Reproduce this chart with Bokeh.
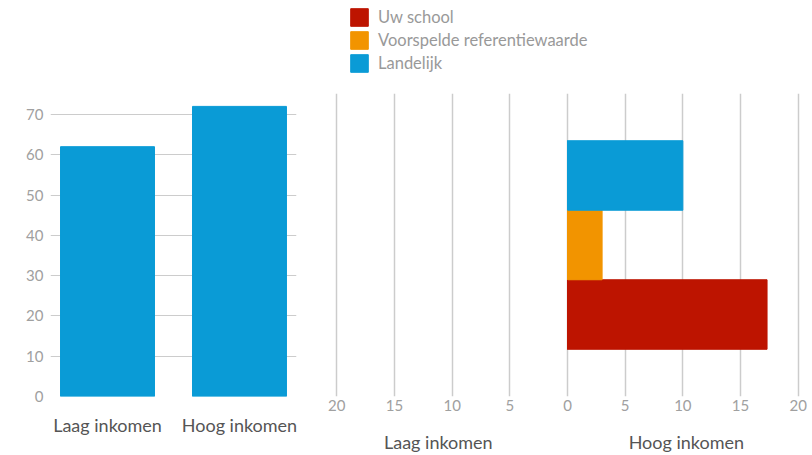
from bokeh.plotting import figure
from bokeh.models import (FactorRange, Range1d, LinearAxis, FixedTicker, CustomJSTickFormatter,
                          Legend, LegendItem, ColumnDataSource)
from bokeh.layouts import row, column
from bokeh.embed import file_html
from bokeh.resources import INLINE

# ---- data ----
income_groups = ["Laag inkomen", "Hoog inkomen"]
landelijk_pct = [62, 72]

series = ["Uw school", "Voorspelde referentiewaarde", "Landelijk"]
series_colors = ["#BD1400", "#F29400", "#0A9BD6"]
laag_values = [0, 0, 0]
hoog_values = [17.3, 3, 10]
group_label_pos = [-11.2, 10.3]

FONT = "Lato"
TICK_COLOR = "#a0a0a0"
LEGEND_COLOR = "#999999"
LABEL_COLOR = "#555555"
GRID_COLOR = "#cccccc"

# ---- legend strip ----
leg_fig = figure(width=812, height=85, x_range=Range1d(0, 1), y_range=FactorRange(*series),
                 output_backend="svg", toolbar_location=None,
                 x_axis_location=None, y_axis_location=None,
                 min_border_left=50, min_border_right=0, min_border_top=0, min_border_bottom=0)
leg_fig.grid.visible = False
leg_fig.outline_line_color = None
leg_src = leg_fig.hbar(y=series, left=0, right=hoog_values, height=1.0, color=series_colors)
leg_src.visible = False
items = [LegendItem(label=name, renderers=[leg_src], index=i) for i, name in enumerate(series)]
legend = Legend(items=items, location=(298, 11), orientation="vertical",
                glyph_width=22, glyph_height=22, label_height=22, spacing=1,
                padding=0, margin=0, border_line_color=None, background_fill_alpha=0,
                label_text_font=FONT, label_text_font_size="16.5px",
                label_text_color=LEGEND_COLOR, label_standoff=8, click_policy="none")
leg_fig.add_layout(legend, "center")

# ---- left panel ----
left = figure(x_range=FactorRange(*income_groups, range_padding=-0.068),
              y_range=Range1d(0, 75.2), width=310, height=370,
              output_backend="svg", toolbar_location=None,
              min_border_left=50, min_border_right=14, min_border_top=8, min_border_bottom=58)
left.vbar(x=income_groups, top=landelijk_pct, width=0.712, color="#0A9BD6")
left.outline_line_color = None
left.xgrid.grid_line_color = None
left.ygrid.grid_line_color = GRID_COLOR
left.yaxis.ticker = FixedTicker(ticks=[0, 10, 20, 30, 40, 50, 60, 70])
for ax in (left.xaxis, left.yaxis):
    ax.axis_line_color = None
    ax.major_tick_line_color = None
    ax.minor_tick_line_color = None
    ax.major_label_text_font = FONT
left.yaxis.major_tick_out = 0
left.yaxis.major_label_text_color = TICK_COLOR
left.yaxis.major_label_text_font_size = "15px"
left.yaxis.major_label_standoff = 7
left.xaxis.major_label_text_color = LABEL_COLOR
left.xaxis.major_label_text_font_size = "18px"
left.xaxis.major_label_standoff = 11

# ---- right panel ----
right = figure(y_range=FactorRange(*series, range_padding=0.453),
               x_range=Range1d(-20.2, 20.2), width=502, height=370,
               output_backend="svg", toolbar_location=None,
               min_border_left=24, min_border_right=12, min_border_top=8, min_border_bottom=58)
right.hbar(y=series, left=0, right=hoog_values, height=1.0, color=series_colors)
src_laag = ColumnDataSource(dict(y=series, l=[-v for v in laag_values], c=series_colors))
right.hbar(y="y", left="l", right=0, height=1.0, color="c", source=src_laag)

right.outline_line_color = None
right.ygrid.grid_line_color = None
right.xgrid.grid_line_color = GRID_COLOR
right.xgrid.grid_line_width = 1.5
right.yaxis.visible = False
right.xaxis.ticker = FixedTicker(ticks=[-20, -15, -10, -5, 0, 5, 10, 15, 20])
right.xaxis.formatter = CustomJSTickFormatter(code="return String(Math.abs(tick));")
right.xaxis.axis_line_color = None
right.xaxis.major_tick_line_color = None
right.xaxis.minor_tick_line_color = None
right.xaxis.major_label_text_font = FONT
right.xaxis.major_label_text_font_size = "15px"
right.xaxis.major_label_text_color = TICK_COLOR
right.xaxis.major_label_standoff = -3

grp_axis = LinearAxis(ticker=FixedTicker(ticks=group_label_pos),
                      major_label_overrides={group_label_pos[0]: income_groups[0],
                                             group_label_pos[1]: income_groups[1]})
grp_axis.axis_line_color = None
grp_axis.major_tick_line_color = None
grp_axis.minor_tick_line_color = None
grp_axis.major_label_text_font = FONT
grp_axis.major_label_text_font_size = "18px"
grp_axis.major_label_text_color = LABEL_COLOR
grp_axis.major_label_standoff = 11
right.add_layout(grp_axis, "below")

layout = column(leg_fig, row(left, right, spacing=0), spacing=0)

open("out.html", "w").write(file_html(layout, INLINE))
